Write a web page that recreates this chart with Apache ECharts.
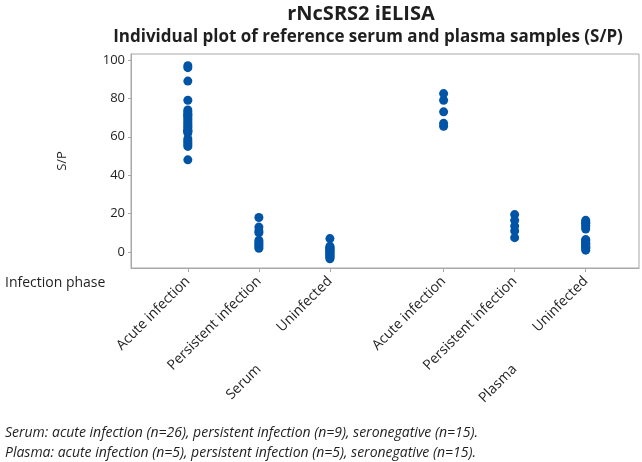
<!DOCTYPE html>
<html>
<head>
<meta charset="utf-8">
<script src="https://cdn.jsdelivr.net/npm/echarts@6/dist/echarts.min.js"></script>
<style>
  html, body { margin: 0; padding: 0; background: #fff; }
  #chart { width: 642px; height: 462px; }
</style>
</head>
<body>
<div id="chart"></div>
<script>
// infection phase categories and where they sit on the x scale (gap between sample types)
var phases = ['Acute infection', 'Persistent infection', 'Uninfected', 'Acute infection', 'Persistent infection', 'Uninfected'];
var phasePos = [0, 1, 2, 3.6, 4.6, 5.6];
var sampleTypes = ['Serum', 'Plasma'];
var sampleTypePos = [1, 4.6];
var yTicks = [0, 20, 40, 60, 80, 100];

// S/P values
var serumAcute = [97, 96, 89, 79, 74, 73, 72, 71.5, 71, 70, 69, 68, 67, 66, 65, 64, 63, 63, 63, 62, 59, 58, 57, 56, 55, 48];
var serumPersistent = [18, 13, 11, 10, 6, 5, 4, 3, 2];
var serumUninfected = [7, 3, 2.5, 2, 1.5, 1, 0.5, 0, -0.5, -1, -1.5, -2, -2.5, -3, -3.5];
var plasmaAcute = [82.5, 79, 73, 67, 65.5];
var plasmaPersistent = [19.5, 16.5, 13.5, 11, 7.5];
var plasmaUninfected = [16.5, 15.5, 15, 14, 13, 12, 6.5, 6, 5, 4.5, 4, 3, 2.5, 2, 1];

var groups = [serumAcute, serumPersistent, serumUninfected, plasmaAcute, plasmaPersistent, plasmaUninfected];

var points = [];
groups.forEach(function (vals, i) {
  vals.forEach(function (v) { points.push([phasePos[i], v]); });
});

var FONT = "'Open Sans', sans-serif";
var TEXT = '#1f1f1f';
var FRAME = '#a8a8a8';

var chart = echarts.init(document.getElementById('chart'));
chart.setOption({
  animation: false,
  backgroundColor: '#fff',
  title: [
    {
      text: 'rNcSRS2 iELISA', left: 356, top: -1, textAlign: 'center',
      textStyle: { fontFamily: FONT, fontSize: 20, fontWeight: 'bold', color: TEXT }
    },
    {
      text: 'Individual plot of reference serum and plasma samples (S/P)', left: 363, top: 24, textAlign: 'center',
      textStyle: { fontFamily: FONT, fontSize: 17, fontWeight: 'bold', color: TEXT }
    },
    {
      text: 'Infection phase', left: 0, top: 271,
      textStyle: { fontFamily: FONT, fontSize: 14, fontWeight: 'normal', color: TEXT }
    },
    {
      text: 'Serum: acute infection (n=26), persistent infection (n=9), seronegative (n=15).', left: 0, top: 421,
      textStyle: { fontFamily: FONT, fontSize: 14, fontStyle: 'italic', fontWeight: 'normal', color: TEXT }
    },
    {
      text: 'Plasma: acute infection (n=5), persistent infection (n=5), seronegative (n=15).', left: 0, top: 441,
      textStyle: { fontFamily: FONT, fontSize: 14, fontStyle: 'italic', fontWeight: 'normal', color: TEXT }
    }
  ],
  grid: { left: 131, right: 3, top: 54, bottom: 194, show: true, borderColor: FRAME, borderWidth: 1 },
  xAxis: [
    {
      type: 'value', min: -0.8, max: 6.35, position: 'bottom',
      axisLine: { show: true, onZero: false, lineStyle: { color: FRAME } },
      axisTick: { show: true, length: 4, lineStyle: { color: FRAME }, customValues: phasePos },
      splitLine: { show: false },
      axisLabel: {
        customValues: phasePos, rotate: 45, margin: 11,
        fontFamily: FONT, fontSize: 14, color: TEXT,
        formatter: function (v) { var i = phasePos.indexOf(v); return i < 0 ? '' : phases[i]; }
      }
    },
    {
      type: 'value', min: -0.8, max: 6.35, position: 'bottom', offset: 95,
      axisLine: { show: false, onZero: false }, axisTick: { show: false }, splitLine: { show: false },
      axisLabel: {
        customValues: sampleTypePos, rotate: 45, margin: 4,
        fontFamily: FONT, fontSize: 14, color: TEXT,
        formatter: function (v) { var i = sampleTypePos.indexOf(v); return i < 0 ? '' : sampleTypes[i]; }
      }
    }
  ],
  yAxis: {
    type: 'value', min: -8.3, max: 103.1,
    name: 'S/P', nameLocation: 'middle', nameGap: 62,
    nameTextStyle: { fontFamily: FONT, fontSize: 13, color: TEXT },
    axisLine: { show: true, onZero: false, lineStyle: { color: FRAME } },
    axisTick: { show: true, length: 3, lineStyle: { color: FRAME }, customValues: yTicks },
    splitLine: { show: false },
    axisLabel: { customValues: yTicks, margin: 6, fontFamily: FONT, fontSize: 13, color: TEXT }
  },
  series: [{
    type: 'scatter',
    xAxisIndex: 0,
    symbol: 'circle',
    symbolSize: 9,
    itemStyle: { color: '#0054a6', opacity: 1 },
    data: points
  }]
});
</script>
</body>
</html>
